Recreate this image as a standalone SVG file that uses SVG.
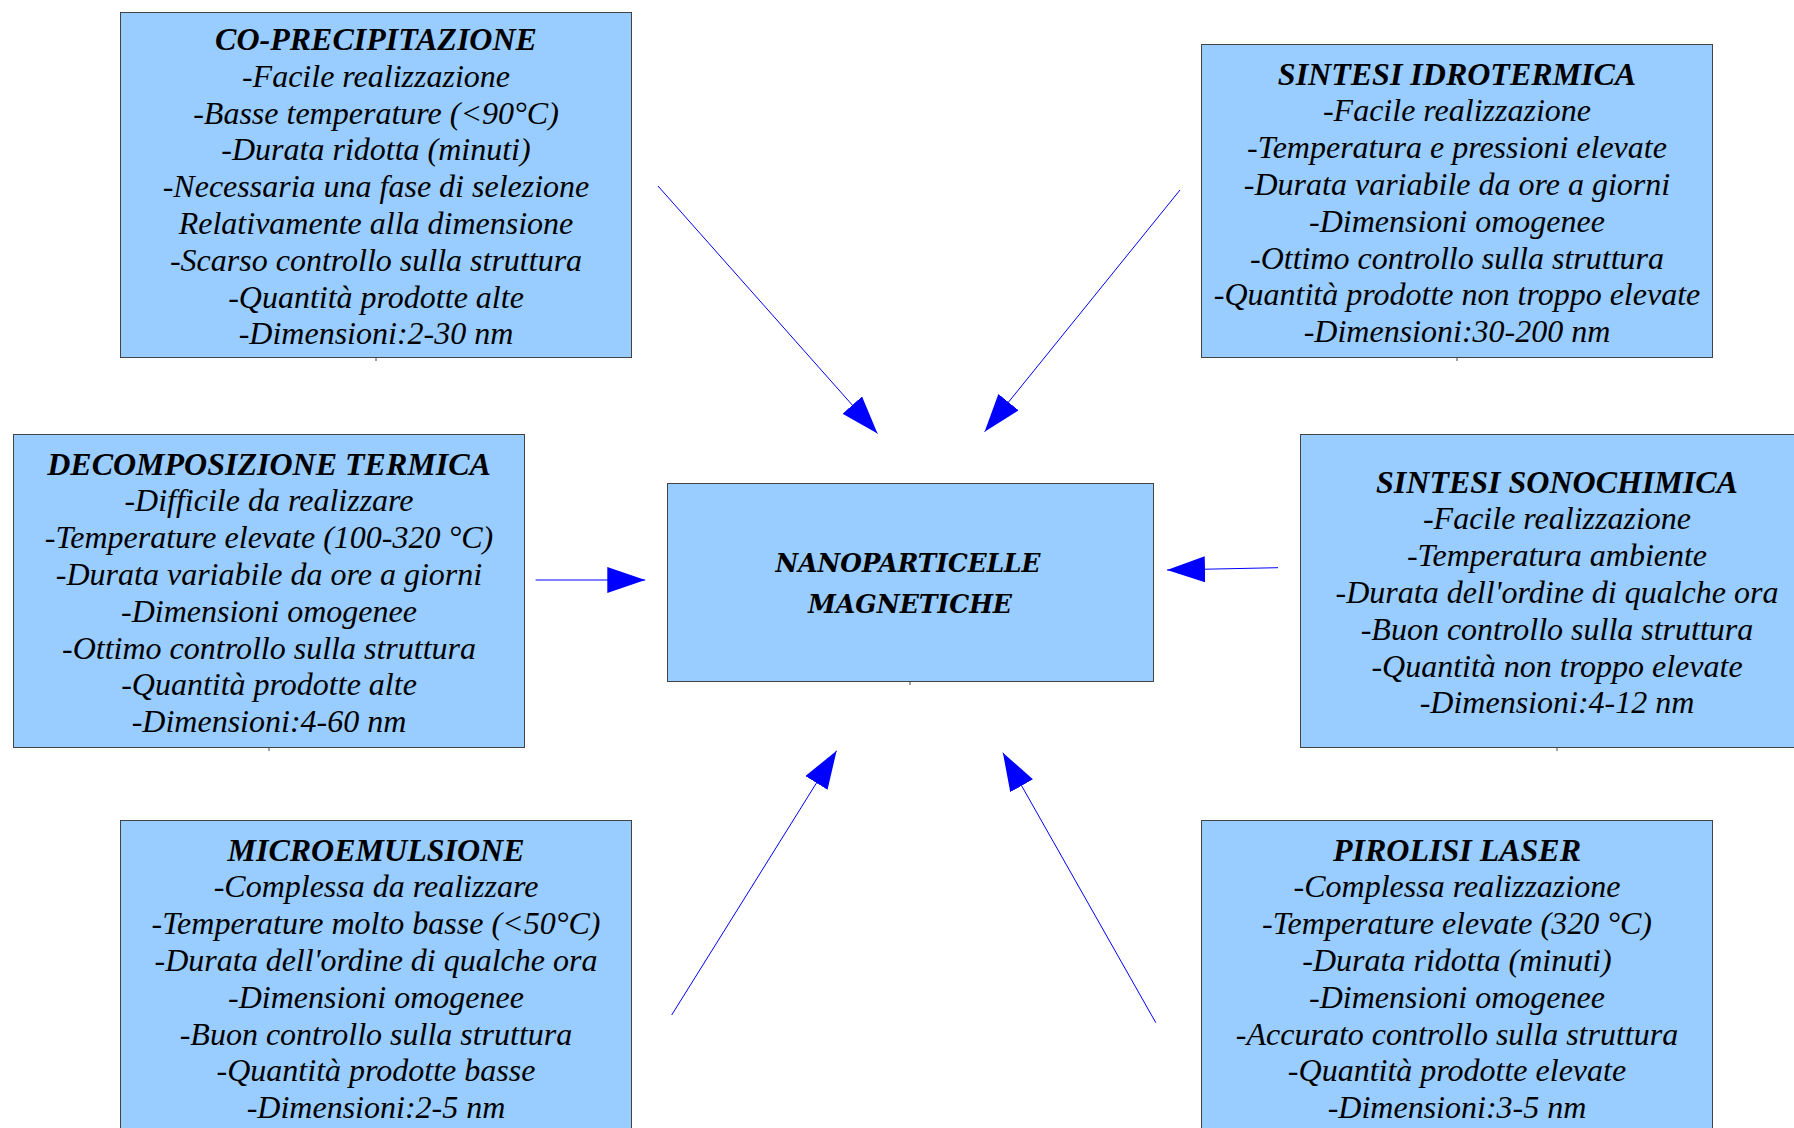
<svg xmlns="http://www.w3.org/2000/svg" width="1794" height="1128" viewBox="0 0 1794 1128">
<style>
.box{fill:#99ccff;stroke:#444444;stroke-width:1}
.tick{stroke:#444444;stroke-width:1}
.t{font-family:"Liberation Serif","Times New Roman",serif;font-style:italic;font-size:32px;fill:#000;text-anchor:middle}
.h{font-weight:bold}
.c{font-family:"DejaVu Serif Condensed","DejaVu Serif",serif;font-style:italic;font-weight:bold;font-size:26px;fill:#000;text-anchor:middle}
.a{stroke:#0000ff;stroke-width:1;fill:none;marker-end:url(#ah)}
</style>
<defs>
<marker id="ah" markerUnits="userSpaceOnUse" markerWidth="40" markerHeight="28" refX="38" refY="13" orient="auto">
<path d="M0,0 L38,13 L0,26 Z" fill="#0000ff"/>
</marker>
</defs>
<rect width="1794" height="1128" fill="#ffffff"/>

<g id="coprecipitazione">
<rect class="box" x="120.5" y="12.5" width="511" height="345"/>
<line class="tick" x1="376" y1="358" x2="376" y2="361"/>
<text class="t" x="376" y="50"><tspan class="h" x="376">CO-PRECIPITAZIONE</tspan><tspan x="376" dy="36.8">-Facile realizzazione</tspan><tspan x="376" dy="36.8">-Basse temperature (&lt;90°C)</tspan><tspan x="376" dy="36.8">-Durata ridotta (minuti)</tspan><tspan x="376" dy="36.8">-Necessaria una fase di selezione</tspan><tspan x="376" dy="36.8">Relativamente alla dimensione</tspan><tspan x="376" dy="36.8">-Scarso controllo sulla struttura</tspan><tspan x="376" dy="36.8">-Quantità prodotte alte</tspan><tspan x="376" dy="36.8">-Dimensioni:2-30 nm</tspan></text>
</g>

<g id="idrotermica">
<rect class="box" x="1201.5" y="44.5" width="511" height="313"/>
<line class="tick" x1="1457" y1="358" x2="1457" y2="361"/>
<text class="t" x="1457" y="84.5"><tspan class="h" x="1457">SINTESI IDROTERMICA</tspan><tspan x="1457" dy="36.8">-Facile realizzazione</tspan><tspan x="1457" dy="36.8">-Temperatura e pressioni elevate</tspan><tspan x="1457" dy="36.8">-Durata variabile da ore a giorni</tspan><tspan x="1457" dy="36.8">-Dimensioni omogenee</tspan><tspan x="1457" dy="36.8">-Ottimo controllo sulla struttura</tspan><tspan x="1457" dy="36.8">-Quantità prodotte non troppo elevate</tspan><tspan x="1457" dy="36.8">-Dimensioni:30-200 nm</tspan></text>
</g>

<g id="decomposizione">
<rect class="box" x="13.5" y="434.5" width="511" height="313"/>
<line class="tick" x1="269" y1="748" x2="269" y2="751"/>
<text class="t" x="269" y="474.5"><tspan class="h" x="269">DECOMPOSIZIONE TERMICA</tspan><tspan x="269" dy="36.8">-Difficile da realizzare</tspan><tspan x="269" dy="36.8">-Temperature elevate (100-320 °C)</tspan><tspan x="269" dy="36.8">-Durata variabile da ore a giorni</tspan><tspan x="269" dy="36.8">-Dimensioni omogenee</tspan><tspan x="269" dy="36.8">-Ottimo controllo sulla struttura</tspan><tspan x="269" dy="36.8">-Quantità prodotte alte</tspan><tspan x="269" dy="36.8">-Dimensioni:4-60 nm</tspan></text>
</g>

<g id="nanoparticelle">
<rect class="box" x="667.5" y="483.5" width="486" height="198"/>
<line class="tick" x1="910" y1="682" x2="910" y2="685"/>
<text class="c" x="908" y="572" textLength="265" lengthAdjust="spacingAndGlyphs">NANOPARTICELLE</text>
<text class="c" x="910" y="613" textLength="204" lengthAdjust="spacingAndGlyphs">MAGNETICHE</text>
</g>

<g id="sonochimica">
<rect class="box" x="1300.5" y="434.5" width="512" height="313"/>
<line class="tick" x1="1557" y1="748" x2="1557" y2="751"/>
<text class="t" x="1557" y="492.5"><tspan class="h" x="1557">SINTESI SONOCHIMICA</tspan><tspan x="1557" dy="36.8">-Facile realizzazione</tspan><tspan x="1557" dy="36.8">-Temperatura ambiente</tspan><tspan x="1557" dy="36.8">-Durata dell'ordine di qualche ora</tspan><tspan x="1557" dy="36.8">-Buon controllo sulla struttura</tspan><tspan x="1557" dy="36.8">-Quantità non troppo elevate</tspan><tspan x="1557" dy="36.8">-Dimensioni:4-12 nm</tspan></text>
</g>

<g id="microemulsione">
<rect class="box" x="120.5" y="820.5" width="511" height="313"/>
<text class="t" x="376" y="860.5"><tspan class="h" x="376">MICROEMULSIONE</tspan><tspan x="376" dy="36.8">-Complessa da realizzare</tspan><tspan x="376" dy="36.8">-Temperature molto basse (&lt;50°C)</tspan><tspan x="376" dy="36.8">-Durata dell'ordine di qualche ora</tspan><tspan x="376" dy="36.8">-Dimensioni omogenee</tspan><tspan x="376" dy="36.8">-Buon controllo sulla struttura</tspan><tspan x="376" dy="36.8">-Quantità prodotte basse</tspan><tspan x="376" dy="36.8">-Dimensioni:2-5 nm</tspan></text>
</g>

<g id="pirolisi">
<rect class="box" x="1201.5" y="820.5" width="511" height="313"/>
<text class="t" x="1457" y="860.5"><tspan class="h" x="1457">PIROLISI LASER</tspan><tspan x="1457" dy="36.8">-Complessa realizzazione</tspan><tspan x="1457" dy="36.8">-Temperature elevate (320 °C)</tspan><tspan x="1457" dy="36.8">-Durata ridotta (minuti)</tspan><tspan x="1457" dy="36.8">-Dimensioni omogenee</tspan><tspan x="1457" dy="36.8">-Accurato controllo sulla struttura</tspan><tspan x="1457" dy="36.8">-Quantità prodotte elevate</tspan><tspan x="1457" dy="36.8">-Dimensioni:3-5 nm</tspan></text>
</g>

<g id="connectors">
<line class="a" x1="658" y1="186" x2="877.5" y2="433.5"/>
<line class="a" x1="1180" y1="190" x2="984.6" y2="431.7"/>
<line class="a" x1="535.6" y1="580" x2="645.3" y2="580"/>
<line class="a" x1="1278" y1="567.7" x2="1167" y2="570"/>
<line class="a" x1="671.7" y1="1015" x2="836.6" y2="750.7"/>
<line class="a" x1="1155.8" y1="1022.7" x2="1002.9" y2="752.7"/>
</g>
</svg>
